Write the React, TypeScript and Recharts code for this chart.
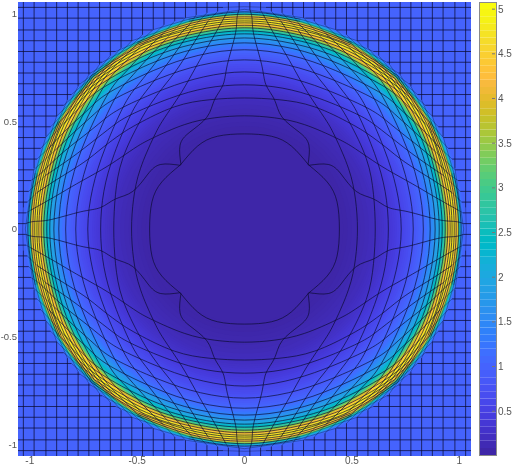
import { BarChart, Bar, ComposedChart, CartesianGrid, Line, Scatter, XAxis, YAxis } from 'recharts'

/* ─── colour scale, 64 levels ─── */
const PARULA = [
  [0.2422, 0.1504, 0.6603], [0.2504, 0.165, 0.7076], [0.2578, 0.1818, 0.7511], [0.2647, 0.1978, 0.7952],
  [0.2706, 0.2147, 0.8364], [0.2751, 0.2342, 0.871], [0.2783, 0.2559, 0.8991], [0.2803, 0.2782, 0.9221],
  [0.2813, 0.3006, 0.9414], [0.281, 0.3228, 0.9579], [0.2795, 0.3447, 0.9717], [0.276, 0.3667, 0.9829],
  [0.2699, 0.3892, 0.9906], [0.2602, 0.4123, 0.9952], [0.244, 0.4358, 0.9988], [0.2206, 0.4603, 0.9973],
  [0.1963, 0.4847, 0.9892], [0.1834, 0.5074, 0.9798], [0.1786, 0.5289, 0.9682], [0.1764, 0.5499, 0.952],
  [0.1687, 0.5703, 0.9359], [0.154, 0.5902, 0.9218], [0.146, 0.6091, 0.9079], [0.138, 0.6276, 0.8973],
  [0.1248, 0.6459, 0.8883], [0.1113, 0.6635, 0.8763], [0.0952, 0.6798, 0.8598], [0.0689, 0.6948, 0.8394],
  [0.0297, 0.7082, 0.8163], [0.0036, 0.7203, 0.7917], [0.0067, 0.7312, 0.766], [0.0433, 0.7411, 0.7394],
  [0.0964, 0.75, 0.712], [0.1408, 0.7584, 0.6842], [0.1717, 0.767, 0.6554], [0.1938, 0.7758, 0.6251],
  [0.2161, 0.7843, 0.5923], [0.247, 0.7918, 0.5567], [0.2906, 0.7973, 0.5188], [0.3406, 0.8008, 0.4789],
  [0.3909, 0.8029, 0.4354], [0.4456, 0.8024, 0.3909], [0.5044, 0.7993, 0.348], [0.5616, 0.7942, 0.3045],
  [0.6174, 0.7876, 0.2612], [0.672, 0.7793, 0.2227], [0.7242, 0.7698, 0.191], [0.7738, 0.7598, 0.1646],
  [0.8203, 0.7498, 0.1535], [0.8634, 0.7406, 0.1596], [0.9035, 0.733, 0.1774], [0.9393, 0.7288, 0.21],
  [0.9728, 0.7298, 0.2394], [0.9956, 0.7434, 0.2371], [0.9961, 0.7653, 0.2199], [0.988, 0.7866, 0.2039],
  [0.9789, 0.8126, 0.1917], [0.9672, 0.8376, 0.1815], [0.9619, 0.8634, 0.1659], [0.9597, 0.8903, 0.1408],
  [0.9595, 0.9178, 0.1132], [0.9626, 0.95, 0.0855], [0.9698, 0.9665, 0.0696], [0.9763, 0.9831, 0.0538],
]
const COLOR_MIN = 0.01
const COLOR_MAX = 5.08
const COLOR_TICKS = [0.5, 1, 1.5, 2, 2.5, 3, 3.5, 4, 4.5, 5]
const AXIS_TICKS = [-1, -0.5, 0, 0.5, 1]
const AXIS_LIMIT = 1.055

/* ─── field: radius and value, outermost first ─── */
const RING_RADII = [
  1.05, 1.03, 1.025, 1.02, 1.015, 1.01, 1.005, 1.0, 0.995, 0.99, 0.985, 0.98, 0.975, 0.97, 0.965, 0.96, 0.955,
  0.95, 0.945, 0.94, 0.935, 0.93, 0.925, 0.92, 0.915, 0.91, 0.905, 0.9, 0.89, 0.88, 0.87, 0.86, 0.85, 0.84,
  0.83, 0.82, 0.81, 0.8, 0.79, 0.78, 0.77, 0.76, 0.75, 0.74, 0.73, 0.72, 0.71, 0.7, 0.69, 0.68, 0.67, 0.66,
  0.65, 0.64, 0.63, 0.62, 0.61, 0.6, 0.58, 0.56, 0.54, 0.52, 0.5, 0.48, 0.46, 0.44,
]
const RING_VALUES = [
  1.0, 1.0, 1.05, 1.15, 1.4, 1.9, 2.5, 3.2, 3.9, 4.3, 4.55, 4.7, 4.75, 4.75, 4.7, 4.55, 4.3,
  3.95, 3.6, 3.25, 2.95, 2.7, 2.5, 2.35, 2.2, 2.06, 1.95, 1.85, 1.68, 1.52, 1.38, 1.25, 1.15, 1.07,
  1.0, 0.94, 0.88, 0.83, 0.78, 0.73, 0.68, 0.64, 0.6, 0.56, 0.52, 0.49, 0.45, 0.42, 0.39, 0.36, 0.33, 0.3,
  0.27, 0.25, 0.23, 0.21, 0.19, 0.17, 0.14, 0.12, 0.1, 0.08, 0.065, 0.05, 0.04, 0.03,
]

/* ─── mesh: upper left quarter only, the picture is symmetric so the rest is mirrored ─── */
const BOUNDARY_Y = [
  0.025, 0.075, 0.125, 0.175, 0.225, 0.275, 0.325, 0.375, 0.425, 0.475, 0.525,
  0.575, 0.625, 0.675, 0.725, 0.775, 0.825, 0.875, 0.925, 0.98, 1.03,
]
const FLAT_END_X = [
  -1.02, -1.017, -1.012, -1.005, -0.995, -0.982, -0.967, -0.949, -0.927, -0.903, -0.875,
  -0.842, -0.806, -0.765, -0.717, -0.663, -0.6, -0.524, -0.43, -0.283, -0.1,
]
const MESH_ANGLES = [5, 10, 15, 22.5, 30, 37.5, 45, 60, 75, 90]
const _ = null
const MESH_RADII = [
  [1.0, 0.89, 0.81, 0.72, 0.665, 0.63, 0.6, 0.56, 0.535, 0.526],
  [_, 0.98, 0.9, 0.81, 0.76, 0.725, 0.695, 0.655, 0.622, 0.609],
  [_, _, 0.96, 0.87, 0.815, 0.78, 0.75, 0.7, 0.678, 0.67],
  [_, _, 0.985, 0.92, 0.865, 0.83, 0.8, 0.75, 0.732, 0.73],
  [_, _, _, 0.955, 0.91, 0.88, 0.855, 0.805, 0.788, 0.786],
  [_, _, _, 0.985, 0.945, 0.915, 0.895, 0.85, 0.835, 0.833],
  [_, _, _, _, 0.975, 0.95, 0.93, 0.885, 0.868, 0.865],
  [_, _, _, _, 0.995, 0.97, 0.95, 0.91, 0.891, 0.888],
  [_, _, _, _, _, 0.985, 0.965, 0.93, 0.91, 0.907],
  [_, _, _, _, _, 0.995, 0.978, 0.945, 0.924, 0.921],
  [_, _, _, _, _, _, 0.99, 0.958, 0.937, 0.935],
  [_, _, _, _, _, _, 1.0, 0.97, 0.949, 0.947],
  [_, _, _, _, _, _, 1.008, 0.98, 0.96, 0.958],
  [_, _, _, _, _, _, _, 0.988, 0.969, 0.967],
  [_, _, _, _, _, _, _, 0.995, 0.979, 0.977],
  [_, _, _, _, _, _, _, 1.002, 0.988, 0.986],
  [_, _, _, _, _, _, _, _, 0.999, 0.998],
  [_, _, _, _, _, _, _, _, 1.009, 1.009],
  [_, _, _, _, _, _, _, _, _, 1.021],
  [_, _, _, _, _, _, _, _, _, 1.033],
]
/* line nearest the centre has a kink, so it is kept as two pieces */
const SEAM_OUTER_X = [-1.02, -0.98, -0.9, -0.763, -0.67, -0.6, -0.52, -0.45, -0.39, -0.3]
const SEAM_OUTER_Y = [0.025, 0.035, 0.044, 0.08, 0.1, 0.14, 0.175, 0.255, 0.3, 0.296]
const SEAM_ARC_X = [-0.3, -0.219, -0.126, 0, 0.126, 0.219, 0.3]
const SEAM_ARC_Y = [0.296, 0.385, 0.431, 0.442, 0.431, 0.385, 0.296]

/* ─── layout ─── */
const PLOT_LEFT = 18
const PLOT_RIGHT = 471
const CENTER_X = (PLOT_LEFT + PLOT_RIGHT) / 2
const FONT = '"Liberation Sans", Arial, sans-serif'

type Pt = { x: number; y: number }
type Seg = { points: Pt[]; curve: 'linear' | 'natural'; opacity: number }

const rgb = (c: number[]) => `rgb(${c.map((v) => Math.round(v * 255)).join(',')})`
const colorOf = (v: number) => {
  const pos = ((v - COLOR_MIN) / (COLOR_MAX - COLOR_MIN)) * PARULA.length - 0.5
  const i = Math.max(0, Math.min(PARULA.length - 2, Math.floor(pos)))
  const t = Math.max(0, Math.min(1, pos - i))
  return rgb(PARULA[i].map((c, k) => c + (PARULA[i + 1][k] - c) * t))
}

const ringData = RING_RADII.map((r, i) => ({ x: r, y: 0, value: RING_VALUES[i] }))

const mirrorX = (pts: Pt[]) => pts.map((p) => ({ x: -p.x, y: p.y })).reverse()

function topSegments(): Seg[] {
  const segs: Seg[] = []
  BOUNDARY_Y.forEach((y, j) => {
    const contact = { x: FLAT_END_X[j], y }
    const flat = [{ x: -AXIS_LIMIT, y }, contact]
    segs.push({ points: flat, curve: 'linear', opacity: 0.85 }, { points: mirrorX(flat), curve: 'linear', opacity: 0.85 })
    if (j === 0) return
    const half: Pt[] = []
    MESH_RADII[j - 1].forEach((r, k) => {
      if (r === null) return
      const a = (MESH_ANGLES[k] * Math.PI) / 180
      half.push({ x: -r * Math.cos(a), y: r * Math.sin(a) })
    })
    half[half.length - 1].x = 0
    const entry = [contact, half[0]]
    segs.push({ points: entry, curve: 'linear', opacity: 0.4 }, { points: mirrorX(entry), curve: 'linear', opacity: 0.4 })
    if (half.length > 1) segs.push({ points: [...half, ...mirrorX(half).slice(1)], curve: 'natural', opacity: 0.8 })
  })
  const outer = SEAM_OUTER_X.map((x, i) => ({ x, y: SEAM_OUTER_Y[i] }))
  segs.push({ points: outer, curve: 'natural', opacity: 0.8 }, { points: mirrorX(outer), curve: 'natural', opacity: 0.8 })
  segs.push({ points: SEAM_ARC_X.map((x, i) => ({ x, y: SEAM_ARC_Y[i] })), curve: 'natural', opacity: 0.8 })
  return segs
}

const meshSegments: Seg[] = topSegments().flatMap((s) => {
  const down = s.points.map((p) => ({ x: p.x, y: -p.y }))
  return [
    s,
    { ...s, points: down },
    { ...s, points: s.points.map((p) => ({ x: p.y, y: p.x })) },
    { ...s, points: down.map((p) => ({ x: p.y, y: p.x })) },
  ]
})

const colorRow: Record<string, number | string> = { name: 'c' }
PARULA.forEach((_c, i) => {
  const step = (COLOR_MAX - COLOR_MIN) / PARULA.length
  colorRow[`level${i}`] = i === 0 ? step + COLOR_MIN : step
})

function RingShape(props: any) {
  return <circle cx={CENTER_X} cy={props.cy} r={props.cx - CENTER_X} fill={colorOf(props.payload.value)} />
}

function ColorTick({ x, y, payload }: any) {
  return (
    <g>
      <line x1={x - 12} x2={x - 9} y1={y} y2={y} stroke="#777" strokeWidth={1} />
      <text x={x - 6} y={y + 3.5} fontSize={10} fontFamily={FONT} fill="#555">{payload.value}</text>
    </g>
  )
}

const tickStyle = { fontSize: 9.5, fontFamily: FONT, fill: '#555' }

export default function App() {
  return (
    <div style={{ position: 'fixed', left: 0, top: 0, width: 513, height: 470, background: '#fff', filter: 'blur(0.45px)' }}>
      <div style={{ position: 'absolute', left: 0, top: 0 }}>
        <ComposedChart width={475} height={470} margin={{ top: 2, right: 4, bottom: 0, left: 0 }}>
          <CartesianGrid horizontal={false} vertical={false} fill={rgb(PARULA[12])} fillOpacity={1} />
          <XAxis
            type="number" dataKey="x" domain={[-AXIS_LIMIT, AXIS_LIMIT]} ticks={AXIS_TICKS} interval={0}
            allowDataOverflow height={14} tick={{ ...tickStyle, fontSize: 10 }} tickLine={false} axisLine={false} tickSize={1} tickMargin={0}
          />
          <YAxis
            type="number" dataKey="y" domain={[-AXIS_LIMIT, AXIS_LIMIT]} ticks={AXIS_TICKS} interval={0}
            allowDataOverflow width={18} tick={tickStyle} tickLine={false} axisLine={false} tickSize={1} tickMargin={0}
          />
          <Scatter data={ringData} dataKey="y" shape={RingShape} isAnimationActive={false} zIndex={1} />
          {meshSegments.map((s, i) => (
            <Line
              key={i} data={s.points} dataKey="y" type={s.curve} stroke="#0a0a30"
              strokeOpacity={s.opacity} strokeWidth={0.85}
              dot={false} activeDot={false} isAnimationActive={false} legendType="none"
            />
          ))}
        </ComposedChart>
      </div>
      <div style={{ position: 'absolute', left: 479, top: 0 }}>
        <BarChart width={34} height={470} data={[colorRow]} margin={{ top: 2, right: 0, bottom: 15, left: 0 }} barCategoryGap={0}>
          <XAxis dataKey="name" hide />
          <YAxis
            orientation="right" type="number" domain={[COLOR_MIN, COLOR_MAX]} ticks={COLOR_TICKS} interval={0}
            allowDataOverflow width={17} tick={<ColorTick />} tickLine={false} axisLine={false}
          />
          {PARULA.map((c, i) => (
            <Bar key={i} dataKey={`level${i}`} stackId="cb" fill={rgb(c)} isAnimationActive={false} />
          ))}
        </BarChart>
      </div>
      <div style={{ position: 'absolute', left: 479, top: 2, width: 16, height: 452, border: '1px solid #8a8a8a' }} />
    </div>
  )
}
